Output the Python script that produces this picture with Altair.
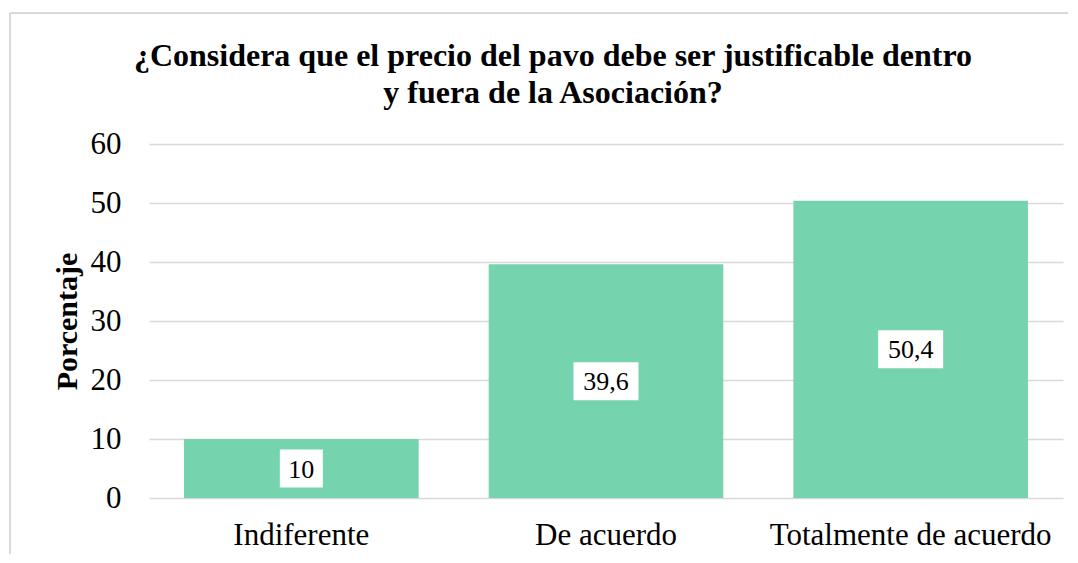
import altair as alt
import pandas as pd

categories = ["Indiferente", "De acuerdo", "Totalmente de acuerdo"]
values = [10, 39.6, 50.4]
labels = ["10", "39,6", "50,4"]
title_lines = ["¿Considera que el precio del pavo debe ser justificable dentro",
               "y fuera de la Asociación?"]

df = pd.DataFrame({"cat": categories, "val": values, "lab": labels})

FONT = "Liberation Serif"
BAR = "#75D4AE"

base = alt.Chart(df)

x_enc = alt.X("cat:N", sort=categories, title=None,
              scale=alt.Scale(paddingInner=0.23, paddingOuter=0.115),
              axis=alt.Axis(labelAngle=0, labelFont=FONT, labelFontSize=31,
                            labelColor="#000000", labelPadding=22, ticks=False,
                            domain=False, grid=False, labelLimit=0))

bars = base.mark_bar(color=BAR).encode(
    x=x_enc,
    y=alt.Y("val:Q", title="Porcentaje",
            scale=alt.Scale(domain=[0, 60]),
            axis=alt.Axis(values=[0, 10, 20, 30, 40, 50, 60], labelFont=FONT,
                          labelFontSize=31, labelColor="#000000", labelPadding=28,
                          ticks=False, domain=False, gridColor="#D9D9D9",
                          gridWidth=1.3, titleFont=FONT, titleFontSize=30,
                          titleFontWeight="bold", titleColor="#000000",
                          titlePadding=8)),
)

boxes = base.transform_calculate(
    mid="datum.val / 2",
    hw="0.55 * length(datum.lab) + 1.05",
).transform_calculate(
    path="'M' + (-datum.hw) + ',-1.9H' + datum.hw + 'V1.9H' + (-datum.hw) + 'Z'"
).mark_point(filled=True, color="white", opacity=1, size=400, strokeWidth=0).encode(
    x=alt.X("cat:N", sort=categories),
    y=alt.Y("mid:Q"),
    shape=alt.Shape("path:N", scale=None),
)

texts = base.transform_calculate(mid="datum.val / 2").mark_text(
    font=FONT, fontSize=26, color="#000000",
    baseline="middle", align="center", dy=1
).encode(
    x=alt.X("cat:N", sort=categories),
    y=alt.Y("mid:Q"),
    text="lab:N",
)

frame_left = base.mark_rule(color="#D9D9D9", strokeWidth=2).encode(
    x=alt.value(-139), y=alt.value(-131), y2=alt.value(420))
frame_top = base.mark_rule(color="#D9D9D9", strokeWidth=2).encode(
    x=alt.value(-139), x2=alt.value(925), y=alt.value(-131))

chart = alt.layer(frame_left, frame_top, bars, boxes, texts).properties(
    width=914, height=354,
    title=alt.TitleParams(title_lines, font=FONT, fontSize=32, fontWeight="bold",
                          color="#000000", anchor="middle", dx=-53, offset=0,
                          dy=98, lineHeight=37),
    autosize=alt.AutoSizeParams(type="none"),
    padding={"left": 141, "top": 136, "right": 5, "bottom": 56},
).configure_view(stroke=None)

chart.save("out.html", embed_options={"renderer": "svg", "actions": False})
